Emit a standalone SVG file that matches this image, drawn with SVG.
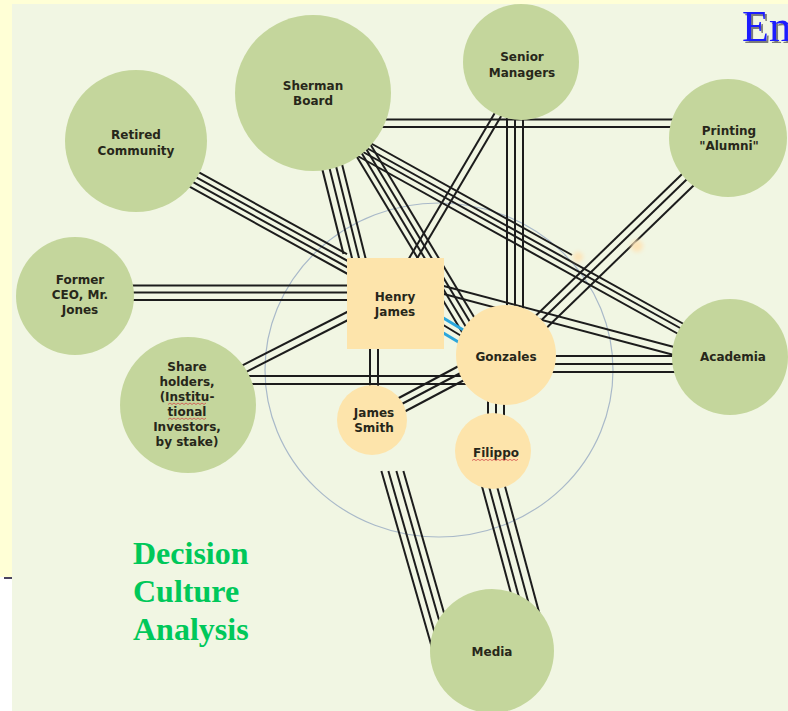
<svg xmlns="http://www.w3.org/2000/svg" width="788" height="711" viewBox="0 0 788 711">
  <defs>
    <style>
      .ln { stroke: #1c1c1c; stroke-width: 2; fill: none; }
      .cy { stroke: #2aa6dc; stroke-width: 3; fill: none; }
      .outer { fill: #c4d69c; }
      .core { fill: #fde4ab; }
      .lbl { font-family: "DejaVu Sans", Verdana, sans-serif; font-weight: bold; font-size: 12px; fill: #27271a; text-anchor: middle; }
      .title { font-family: "Liberation Serif", "Times New Roman", serif; font-weight: bold; font-size: 32px; fill: #00c85a; }
      .spell { stroke: #d24a4a; stroke-width: 1; fill: none; opacity: 0.8; }
    </style>
    <filter id="soft" x="-50%" y="-50%" width="200%" height="200%">
      <feGaussianBlur stdDeviation="2"/>
    </filter>
    <filter id="shade" x="-10%" y="-10%" width="130%" height="130%">
      <feDropShadow dx="2" dy="2" stdDeviation="0.6" flood-color="#6e6e6e" flood-opacity="0.9"/>
    </filter>
  </defs>

  <!-- page background -->
  <rect x="0" y="0" width="788" height="711" fill="#ffffff"/>
  <rect x="0" y="0" width="788" height="577" fill="#ffffd6"/>
  <rect x="12" y="4" width="776" height="707" fill="#f1f6e3"/>
  <rect x="4" y="577" width="8" height="2" fill="#4a4460"/>

  <!-- inner circle of the organisation -->
  <ellipse cx="439" cy="370" rx="174" ry="167" fill="none" stroke="#a9b9c9" stroke-width="1.2"/>

  <!-- connectors -->
  <g id="connectors">
    <!-- Retired Community - Henry James -->
    <line class="ln" x1="185" y1="164.7" x2="347" y2="254.1"/>
    <line class="ln" x1="185" y1="171.2" x2="355" y2="265"/>
    <line class="ln" x1="185" y1="177.7" x2="355" y2="271.5"/>
    <line class="ln" x1="185" y1="184.2" x2="355" y2="278"/>
    <!-- Former CEO - Henry James -->
    <line class="ln" x1="125" y1="285.5" x2="355" y2="285.5"/>
    <line class="ln" x1="125" y1="292.5" x2="355" y2="292.5"/>
    <line class="ln" x1="125" y1="300" x2="355" y2="300"/>
    <!-- Share holders - Henry James -->
    <line class="ln" x1="240" y1="366.6" x2="352" y2="309.5"/>
    <line class="ln" x1="243" y1="373.6" x2="352" y2="318"/>
    <!-- Share holders - Gonzales -->
    <line class="ln" x1="245" y1="376" x2="475" y2="376"/>
    <line class="ln" x1="245" y1="384" x2="475" y2="384"/>
    <!-- Henry James - James Smith -->
    <line class="ln" x1="370" y1="345" x2="370" y2="398"/>
    <line class="ln" x1="378" y1="345" x2="378" y2="398"/>
    <!-- James Smith - Gonzales -->
    <line class="ln" x1="395" y1="400" x2="470" y2="360"/>
    <line class="ln" x1="398" y1="406" x2="470" y2="368"/>
    <line class="ln" x1="402" y1="413" x2="470" y2="377"/>
    <!-- Gonzales - Filippo -->
    <line class="ln" x1="488" y1="398" x2="488" y2="420"/>
    <line class="ln" x1="496" y1="398" x2="496" y2="420"/>
    <line class="ln" x1="504" y1="398" x2="504" y2="420"/>
    <!-- Filippo - Media -->
    <line class="ln" x1="480.3" y1="480" x2="519.5" y2="625"/>
    <line class="ln" x1="487.3" y1="480" x2="526.5" y2="625"/>
    <line class="ln" x1="495.3" y1="480" x2="534.5" y2="625"/>
    <line class="ln" x1="503.3" y1="480" x2="542.5" y2="625"/>
    <!-- James Smith - Media -->
    <line class="ln" x1="381.4" y1="471" x2="435.5" y2="660"/>
    <line class="ln" x1="388.4" y1="471" x2="442.5" y2="660"/>
    <line class="ln" x1="396.4" y1="471" x2="450.5" y2="660"/>
    <line class="ln" x1="403.4" y1="471" x2="457.5" y2="660"/>
    <!-- Sherman Board - Henry James -->
    <line class="ln" x1="317.5" y1="150" x2="343.5" y2="254"/>
    <line class="ln" x1="325" y1="150" x2="352.5" y2="260"/>
    <line class="ln" x1="332" y1="150" x2="359.5" y2="260"/>
    <line class="ln" x1="338.5" y1="150" x2="366" y2="260"/>
    <!-- Sherman Board - Gonzales -->
    <line class="ln" x1="346.8" y1="140" x2="463.8" y2="335"/>
    <line class="ln" x1="353.8" y1="140" x2="470.8" y2="335"/>
    <line class="ln" x1="360.8" y1="140" x2="477.8" y2="335"/>
    <line class="ln" x1="367.8" y1="140" x2="484.8" y2="335"/>
    <!-- Sherman Board - Academia -->
    <line class="ln" x1="355" y1="134.5" x2="572" y2="255"/>
    <line class="ln" x1="355" y1="141.5" x2="690" y2="327.5"/>
    <line class="ln" x1="355" y1="147.5" x2="690" y2="333.5"/>
    <line class="ln" x1="355" y1="154.5" x2="690" y2="340.5"/>
    <!-- Sherman Board - Printing "Alumni" -->
    <line class="ln" x1="380" y1="119.5" x2="680" y2="119.5"/>
    <line class="ln" x1="380" y1="127" x2="680" y2="127"/>
    <!-- Senior Managers - Gonzales -->
    <line class="ln" x1="507" y1="110" x2="507" y2="320"/>
    <line class="ln" x1="515" y1="110" x2="515" y2="320"/>
    <line class="ln" x1="523" y1="110" x2="523" y2="320"/>
    <!-- Senior Managers - Henry James -->
    <line class="ln" x1="499.5" y1="105" x2="406.9" y2="262"/>
    <line class="ln" x1="507.7" y1="105" x2="415" y2="262"/>
    <!-- Printing "Alumni" - Gonzales -->
    <line class="ln" x1="691.4" y1="165" x2="515.9" y2="335"/>
    <line class="ln" x1="696.4" y1="170" x2="520.9" y2="340"/>
    <line class="ln" x1="704.4" y1="175" x2="528.9" y2="345"/>
    <!-- Henry James - Academia -->
    <line class="ln" x1="440" y1="285" x2="690" y2="351.2"/>
    <line class="ln" x1="440" y1="293" x2="690" y2="359.2"/>
    <!-- Gonzales - Academia -->
    <line class="ln" x1="545" y1="356" x2="690" y2="356"/>
    <line class="ln" x1="545" y1="364" x2="690" y2="364"/>
    <line class="ln" x1="545" y1="372" x2="690" y2="372"/>
    <!-- Henry James - Gonzales -->
    <line class="cy" x1="440" y1="316" x2="465" y2="331"/>
    <line class="ln" x1="440" y1="323" x2="463" y2="337"/>
    <line class="cy" x1="440" y1="331" x2="460" y2="343"/>
  </g>

  <!-- small marks on the lines -->
  <circle cx="578" cy="257" r="5" fill="#fde4b8" filter="url(#soft)"/>
  <circle cx="637" cy="246" r="6" fill="#fde4b8" filter="url(#soft)"/>

  <!-- outer stakeholders -->
  <g id="retired-community">
    <circle class="outer" cx="136" cy="141" r="71"/>
    <text class="lbl" x="136" y="139">Retired</text>
    <text class="lbl" x="136" y="155">Community</text>
  </g>
  <g id="sherman-board">
    <circle class="outer" cx="313" cy="93" r="78"/>
    <text class="lbl" x="313" y="90">Sherman</text>
    <text class="lbl" x="313" y="105">Board</text>
  </g>
  <g id="senior-managers">
    <circle class="outer" cx="521" cy="62" r="58"/>
    <text class="lbl" x="522" y="61">Senior</text>
    <text class="lbl" x="522" y="77">Managers</text>
  </g>
  <g id="printing-alumni">
    <circle class="outer" cx="728" cy="138" r="59"/>
    <text class="lbl" x="729" y="135">Printing</text>
    <text class="lbl" x="729" y="150">"Alumni"</text>
  </g>
  <g id="former-ceo">
    <circle class="outer" cx="75" cy="296" r="59"/>
    <text class="lbl" x="80" y="284">Former</text>
    <text class="lbl" x="80" y="299">CEO, Mr.</text>
    <text class="lbl" x="80" y="314">Jones</text>
  </g>
  <g id="share-holders">
    <circle class="outer" cx="188" cy="405" r="68"/>
    <text class="lbl" x="187" y="371">Share</text>
    <text class="lbl" x="187" y="386">holders,</text>
    <text class="lbl" x="187" y="401">(Institu-</text>
    <text class="lbl" x="187" y="416">tional</text>
    <text class="lbl" x="187" y="431">Investors,</text>
    <text class="lbl" x="187" y="446">by stake)</text>
    <path class="spell" d="M168 404.5 l2 -1.5 l2 1.5 l2 -1.5 l2 1.5 l2 -1.5 l2 1.5 l2 -1.5 l2 1.5 l2 -1.5 l2 1.5 l2 -1.5 l2 1.5 l2 -1.5 l2 1.5 l2 -1.5 l2 1.5 l2 -1.5 l2 1.5 l2 -1.5"/>
    <path class="spell" d="M168 419.5 l2 -1.5 l2 1.5 l2 -1.5 l2 1.5 l2 -1.5 l2 1.5 l2 -1.5 l2 1.5 l2 -1.5 l2 1.5 l2 -1.5 l2 1.5 l2 -1.5 l2 1.5 l2 -1.5 l2 1.5 l2 -1.5 l2 1.5 l2 -1.5"/>
  </g>
  <g id="academia">
    <circle class="outer" cx="730" cy="357" r="58"/>
    <text class="lbl" x="733" y="361">Academia</text>
  </g>
  <g id="media">
    <circle class="outer" cx="492" cy="651" r="62"/>
    <text class="lbl" x="492" y="656">Media</text>
  </g>

  <!-- core decision makers -->
  <g id="henry-james">
    <rect class="core" x="347" y="258" width="97" height="91"/>
    <text class="lbl" x="395" y="301">Henry</text>
    <text class="lbl" x="395" y="316">James</text>
  </g>
  <g id="gonzales">
    <circle class="core" cx="506" cy="355" r="50"/>
    <text class="lbl" x="506" y="361">Gonzales</text>
  </g>
  <g id="james-smith">
    <circle class="core" cx="372" cy="420" r="35"/>
    <text class="lbl" x="374" y="417">James</text>
    <text class="lbl" x="374" y="432">Smith</text>
  </g>
  <g id="filippo">
    <circle class="core" cx="493" cy="451" r="38"/>
    <text class="lbl" x="496" y="457">Filippo</text>
    <path class="spell" d="M472 460.5 l2 -1.2 l2 1.2 l2 -1.2 l2 1.2 l2 -1.2 l2 1.2 l2 -1.2 l2 1.2 l2 -1.2 l2 1.2 l2 -1.2 l2 1.2 l2 -1.2 l2 1.2 l2 -1.2 l2 1.2 l2 -1.2 l2 1.2 l2 -1.2 l2 1.2 l2 -1.2 l2 1.2 l2 -1.2"/>
  </g>

  <!-- headings -->
  <text x="742" y="41" font-family="'Liberation Serif', 'Times New Roman', serif" font-size="44" fill="#1f1fff" filter="url(#shade)">Em</text>
  <text class="title" x="133" y="564">Decision</text>
  <text class="title" x="133" y="602">Culture</text>
  <text class="title" x="133" y="640">Analysis</text>
</svg>
